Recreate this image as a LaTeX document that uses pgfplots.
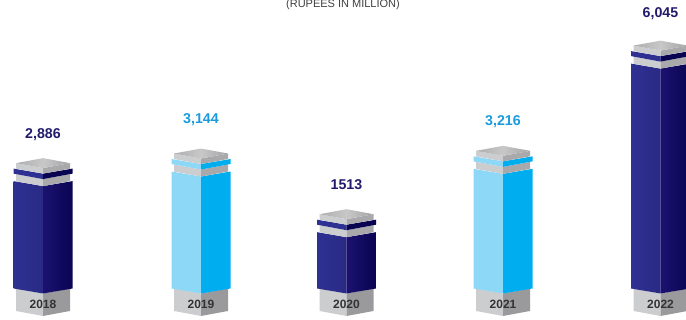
\documentclass[border=0pt]{standalone}
\usepackage{pgfplots}
\usepackage{pgfplotstable}
\usepackage{fontspec}
\setmainfont{Liberation Sans}
\pgfplotsset{compat=1.18}

\definecolor{navyL}{HTML}{2E3192}
\definecolor{navyLb}{HTML}{2A2A85}
\definecolor{navyR}{HTML}{1B1270}
\definecolor{navyRb}{HTML}{090452}
\definecolor{skyL}{HTML}{8DD7F7}
\definecolor{skyR}{HTML}{00AEEF}
\definecolor{greyL}{HTML}{CCCDCE}
\definecolor{greyR}{HTML}{9A9A9C}
\definecolor{navyText}{HTML}{211A6B}
\definecolor{skyText}{HTML}{1A9BDB}
\definecolor{yearText}{HTML}{333333}

% Outlines of the column's parts: dx and dy in drawing units around the column
% axis, t = 1 where a corner rides on the column's value, t = 0 on the baseline.
\pgfplotstableread{
dx dy t
-27 0 0
0 -5 0
0 -27.5 0
-27 -22.5 0
}\plinthL
\pgfplotstableread{
dx dy t
27 0 0
0 -5 0
0 -27.5 0
27 -22.5 0
}\plinthR
\pgfplotstableread{
dx dy t
-29.5 0 1
0 -5 1
0 -5 0
-29.5 0 0
}\shaftL
\pgfplotstableread{
dx dy t
29.5 0 1
0 -5 1
0 -5 0
29.5 0 0
}\shaftR
\pgfplotstableread{
dx dy t
-27 7 1
0 2 1
0 -5 1
-27 0 1
}\neckL
\pgfplotstableread{
dx dy t
27 7 1
0 2 1
0 -5 1
27 0 1
}\neckR
\pgfplotstableread{
dx dy t
-29.5 12.5 1
0 7.5 1
0 2 1
-29.5 7.5 1
}\ringL
\pgfplotstableread{
dx dy t
29.5 12.5 1
0 7.5 1
0 2 1
29.5 7.5 1
}\ringR
\pgfplotstableread{
dx dy t
-27 18 1
0 13 1
0 7.5 1
-27 12.5 1
}\capL
\pgfplotstableread{
dx dy t
27 18 1
0 13 1
0 7.5 1
27 12.5 1
}\capR
\pgfplotstableread{
dx dy t
-27 18 1
0 23 1
0 13 1
}\topL
\pgfplotstableread{
dx dy t
27 18 1
0 23 1
0 13 1
}\topR

% One part: outline table, column position, column value, fill style
\newcommand\piece[4]{%
  \addplot[draw=none,#4] table[
    x expr={#2+\thisrow{dx}},
    y expr={\thisrow{t}*#3+\thisrow{dy}/0.0372}]{#1} -- cycle;}

% Column position, value, year, coloured value text, label offset, face fills, ring fills
\newcommand\pillar[9]{%
  \piece{\plinthL}{#1}{#2}{fill=greyL}
  \piece{\plinthR}{#1}{#2}{fill=greyR}
  \piece{\shaftL}{#1}{#2}{#6}
  \piece{\shaftR}{#1}{#2}{#7}
  \piece{\neckL}{#1}{#2}{fill=greyL}
  \piece{\neckR}{#1}{#2}{fill=greyR!85!white}
  \piece{\ringL}{#1}{#2}{fill=#8}
  \piece{\ringR}{#1}{#2}{fill=#9}
  \piece{\capL}{#1}{#2}{fill=greyL}
  \piece{\capR}{#1}{#2}{fill=greyR!85!white}
  \piece{\topL}{#1}{#2}{left color=greyR!80!white,right color=greyR!55!white}
  \piece{\topR}{#1}{#2}{left color=greyR!55!white,right color=greyR!90!white}
  \node[font=\bfseries\fontsize{12}{14}\selectfont,text=yearText] at (axis cs:#1,-15.5/0.0372) {#3};
  \node[font=\bfseries\fontsize{14.2}{16}\selectfont] at (axis cs:#1,#2+#5/0.0372) {#4};
}

\begin{document}
\begin{tikzpicture}
\path[use as bounding box] (0,0) rectangle (686pt,320pt);
\begin{axis}[
  at={(0,0)}, anchor=south west,
  scale only axis, width=686pt, height=320pt,
  xmin=0, xmax=686, ymin=-847, ymax=7755,
  axis lines=none, clip=false]

\pillar{43}{2886}{2018}{\textcolor{navyText}{2,886}}{46}{left color=navyL,right color=navyLb}{left color=navyR,right color=navyRb}{navyL}{navyRb}
\pillar{201}{3144}{2019}{\textcolor{skyText}{3,144}}{52}{fill=skyL}{fill=skyR}{skyL}{skyR}
\pillar{346.5}{1513}{2020}{\textcolor{navyText}{1513}}{47.5}{left color=navyL,right color=navyLb}{left color=navyR,right color=navyRb}{navyL}{navyRb}
\pillar{503}{3216}{2021}{\textcolor{skyText}{3,216}}{47.5}{fill=skyL}{fill=skyR}{skyL}{skyR}
\pillar{660.5}{6045}{2022}{\textcolor{navyText}{6,045}}{50}{left color=navyL,right color=navyLb}{left color=navyR,right color=navyRb}{navyL}{navyRb}

\node[anchor=base,font=\fontsize{11}{13}\selectfont,text=black!75] at (axis cs:343,7554) {(RUPEES IN MILLION)};
\end{axis}
\end{tikzpicture}
\end{document}
